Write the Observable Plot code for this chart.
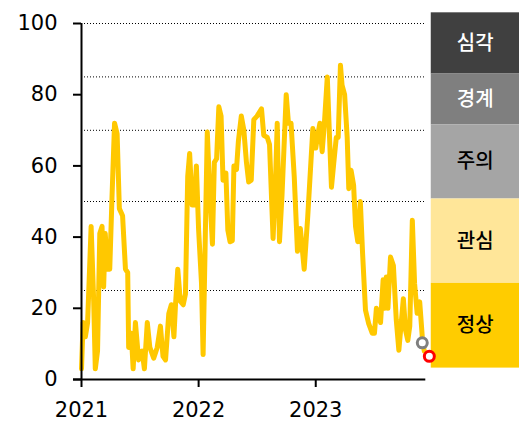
<!DOCTYPE html>
<html>
<head>
<meta charset="utf-8">
<script src="https://cdn.jsdelivr.net/npm/d3@7"></script>
<script src="https://cdn.jsdelivr.net/npm/@observablehq/plot@0.6"></script>
<style>
  html, body { margin: 0; padding: 0; background: #fff; }
</style>
</head>
<body>
<div id="chart"></div>
<script>
// ---- data ----
const dates = [
  "2021-01-01","2021-01-06","2021-01-13","2021-01-20","2021-01-31","2021-02-08","2021-02-13","2021-02-20",
  "2021-02-27","2021-03-06","2021-03-11","2021-03-16","2021-03-23","2021-03-30","2021-04-06","2021-04-14",
  "2021-04-22","2021-04-29","2021-05-09","2021-05-18","2021-05-25","2021-05-28","2021-06-05","2021-06-11",
  "2021-06-18","2021-06-28","2021-07-09","2021-07-16","2021-07-25","2021-08-02","2021-08-14","2021-08-25",
  "2021-09-04","2021-09-12","2021-09-20","2021-09-30","2021-10-08","2021-10-16","2021-10-21","2021-10-28",
  "2021-11-05","2021-11-14","2021-11-21","2021-11-28","2021-12-04","2021-12-12","2021-12-19","2021-12-25",
  "2022-01-01","2022-01-10","2022-01-15","2022-01-22","2022-01-28","2022-02-05","2022-02-13","2022-02-19",
  "2022-02-26","2022-03-05","2022-03-12","2022-03-18","2022-03-27","2022-04-02","2022-04-09","2022-04-16",
  "2022-04-21","2022-04-29","2022-05-05","2022-05-14","2022-05-22","2022-05-30","2022-06-06","2022-06-14",
  "2022-06-22","2022-07-02","2022-07-16","2022-07-23","2022-08-03","2022-08-10","2022-08-21","2022-08-28",
  "2022-09-03","2022-09-10","2022-09-18","2022-10-01","2022-10-08","2022-10-16","2022-10-26","2022-11-05",
  "2022-11-14","2022-11-26","2022-12-07","2022-12-23","2023-01-01","2023-01-06","2023-01-14","2023-01-21",
  "2023-01-28","2023-02-06","2023-02-13","2023-02-19","2023-02-26","2023-03-06","2023-03-12","2023-03-19",
  "2023-03-24","2023-04-01","2023-04-09","2023-04-14","2023-04-21","2023-04-29","2023-05-05","2023-05-12",
  "2023-05-20","2023-05-27","2023-06-05","2023-06-15","2023-06-26","2023-07-03","2023-07-09","2023-07-22",
  "2023-07-30","2023-08-04","2023-08-09","2023-08-14","2023-08-22","2023-08-31","2023-09-09","2023-09-17",
  "2023-10-01","2023-10-08","2023-10-15","2023-10-21","2023-10-29","2023-11-05","2023-11-13","2023-11-21",
  "2023-11-29","2023-12-05"
];
const values = [
  3,16,12,16,43,22,3,8,
  41,43,26,41,31,31,51,72,
  69,48,46,31,30,9,13,3,
  16,5.5,8,3,16,9,6,9,
  15,6.5,5.5,18.5,21,12,21,31,
  22,21,24,57,63.5,49,49,60,
  42,27,7,41,69.5,52,38,61,
  62,76.6,74,56,58,42,38.7,39,
  60,59,67,74,70,61,55.5,56,
  73,74,76,68.6,68,66,39.6,54,
  72,38.7,52,80,72,72,57,36,
  42.4,31,45.7,70.5,65,68,72,64,
  72,85,68,54,60.7,68,68,88.3,
  82.7,80,68,53.6,58.8,54.6,43,38.7,
  50,35.4,19.5,15.7,13,13,20,16,
  28,20,28.8,20,34.4,32,16.7,8.2,
  22.7,13.8,11,15,44.7,27,18.6,21.8,
  12,8
];

// highlighted end points
const markerDates = ["2023-11-29", "2023-12-21"];
const markerValues = [10.3, 6.5];
const markerColors = ["#7f7f7f", "#ff0000"];

// alert levels (band column on the right)
const levelNames = ["심각", "경계", "주의", "관심", "정상"];
const levelTop = [103, 85.8, 71.5, 50.7, 27];
const levelBottom = [85.8, 71.5, 50.7, 27, 3.2];
const levelColors = ["#404040", "#7f7f7f", "#a5a5a5", "#ffe699", "#ffcc00"];
const levelTextColors = ["#ffffff", "#ffffff", "#000000", "#000000", "#000000"];

// dotted threshold lines
const gridLevels = [25, 50, 70, 85, 100];

// axis ticks
const yTicks = [0, 20, 40, 60, 80, 100];
const xTickLabels = ["2021", "2022", "2023"];

// ---- build ----
const parse = d3.utcParse("%Y-%m-%d");
const series = dates.map((d, i) => ({date: parse(d), value: values[i]}));
const markers = markerDates.map((d, i) => ({date: parse(d), value: markerValues[i], color: markerColors[i]}));
const levels = levelNames.map((n, i) => ({name: n, top: levelTop[i], bottom: levelBottom[i], fill: levelColors[i], text: levelTextColors[i]}));
const xTicks = xTickLabels.map(y => parse(y + "-01-01"));

const xStart = parse("2021-01-01");
const xEnd = parse("2024-09-27");
const axisLeft = parse("2020-12-07");
const axisRight = parse("2023-12-10");
const bandLeft = parse("2023-12-27");
const bandMid = parse("2024-05-12");

const axisFont = "'DejaVu Sans', 'Noto Sans', sans-serif";
const krFont = "'Noto Sans CJK KR', 'Noto Sans', sans-serif";

const chart = Plot.plot({
  width: 530,
  height: 431,
  marginLeft: 81,
  marginRight: 11,
  marginTop: 23,
  marginBottom: 52,
  style: {fontFamily: axisFont, fontSize: "21px", color: "#000", background: "#fff", overflow: "visible"},
  x: {type: "utc", domain: [xStart, xEnd]},
  y: {domain: [0, 100]},
  marks: [
    Plot.rect(levels, {x1: bandLeft, x2: xEnd, y1: "bottom", y2: "top", fill: "fill"}),
    Plot.text(levels, {
      x: bandMid,
      y: d => (d.top + d.bottom) / 2,
      text: "name", fill: "text", fontSize: 20, fontFamily: krFont, fontWeight: 500
    }),
    Plot.ruleY(gridLevels, {x1: xStart, x2: axisRight, stroke: "#000", strokeWidth: 1, strokeDasharray: "1,2"}),
    Plot.line(series, {x: "date", y: "value", stroke: "#ffc800", strokeWidth: 5, strokeLinejoin: "round", strokeLinecap: "round"}),
    Plot.ruleX([xStart], {y1: 0, y2: 100, stroke: "#000", strokeWidth: 2}),
    Plot.ruleY([0], {x1: axisLeft, x2: axisRight, stroke: "#000", strokeWidth: 2}),
    Plot.axisY({ticks: yTicks, tickSize: 8, tickPadding: 16, tickFormat: d => String(d), strokeWidth: 2, fontSize: 21}),
    Plot.axisX({ticks: xTicks, tickSize: 8, tickPadding: 15, tickFormat: d3.utcFormat("%Y"), strokeWidth: 2, fontSize: 21}),
    Plot.dot(markers, {x: "date", y: "value", r: 5, stroke: "color", strokeWidth: 3, fill: "#fff"})
  ]
});

document.getElementById("chart").appendChild(chart);
</script>
</body>
</html>
